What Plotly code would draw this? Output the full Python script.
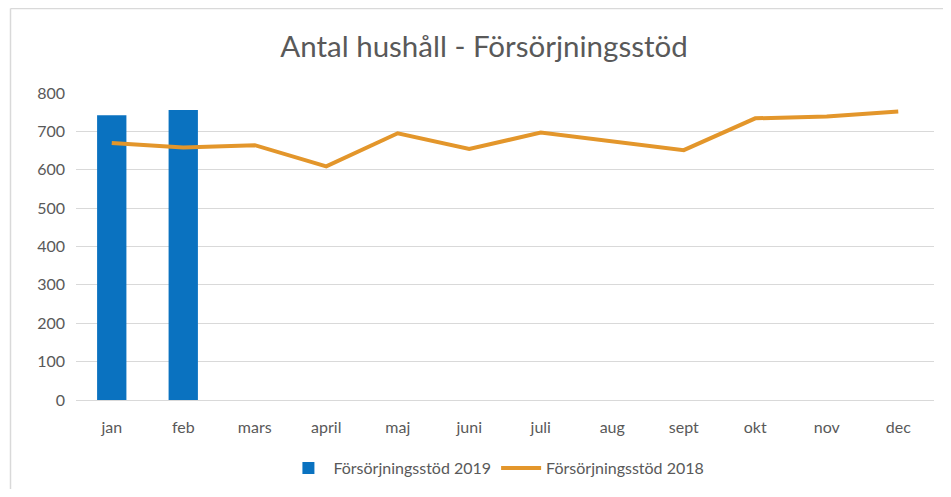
import plotly.graph_objects as go

months = ["jan", "feb", "mars", "april", "maj", "juni", "juli", "aug", "sept", "okt", "nov", "dec"]
values_2019 = [742, 756]
values_2018 = [670, 658, 664, 609, 695, 654, 697, 673, 651, 734, 739, 752]
y_ticks = [0, 100, 200, 300, 400, 500, 600, 700, 800]

FONT = "Lato, Roboto, sans-serif"
OFF = 8  # page body margin
W, H = 951 - 2 * OFF, 497 - 2 * OFF
L, R_EDGE, T, BOT = 76 - OFF, 934 - OFF, 93 - OFF, 400 - OFF
pw, ph = R_EDGE - L, BOT - T

def px(x):
    return (x - OFF - L) / pw

def py(y):
    return (BOT - (y - OFF)) / ph

fig = go.Figure()
fig.add_trace(go.Bar(x=months[:len(values_2019)], y=values_2019, name="Försörjningsstöd 2019",
                     marker=dict(color="#0a72c0", line=dict(width=0))))
fig.add_trace(go.Scatter(x=months, y=values_2018, name="Försörjningsstöd 2018", mode="lines",
                         line=dict(color="#e3962b", width=4)))

fig.update_layout(
    width=W, height=H,
    margin=dict(l=L, r=W - R_EDGE, t=T, b=H - BOT, autoexpand=False),
    paper_bgcolor="white", plot_bgcolor="white",
    font=dict(family=FONT, color="#595959", size=16),
    title=dict(text="Antal hushåll - Försörjningsstöd", x=(484 - OFF) / W, xanchor="center",
               y=1 - (47 - OFF) / H, yanchor="middle", font=dict(size=29.5, color="#595959", family=FONT)),
    bargap=0.59,
    showlegend=True,
    legend=dict(orientation="h", x=0.49, xanchor="center", y=py(468), yanchor="middle",
                font=dict(size=16, color="#595959"), itemwidth=40),
    xaxis=dict(categoryorder="array", categoryarray=months, range=[-0.5, 11.5], showgrid=False,
               showline=True, linecolor="#d9d9d9", ticks="", tickfont=dict(size=16),
               ticklabelstandoff=13, automargin=False),
    yaxis=dict(range=[0, 800], tickvals=y_ticks, showgrid=True, gridcolor="#d9d9d9",
               zeroline=False, showline=False, ticks="", tickfont=dict(size=16), ticklabelstandoff=10,
               automargin=False),
    shapes=[
        dict(type="line", xref="paper", yref="paper", x0=px(10.5), x1=px(951), y0=py(8.5), y1=py(8.5),
             line=dict(color="#d9d9d9", width=1.5)),
        dict(type="line", xref="paper", yref="paper", x0=px(10.5), x1=px(10.5), y0=py(8.5), y1=py(497),
             line=dict(color="#d9d9d9", width=1.5)),
    ],
)

fig.write_html("out.html")
